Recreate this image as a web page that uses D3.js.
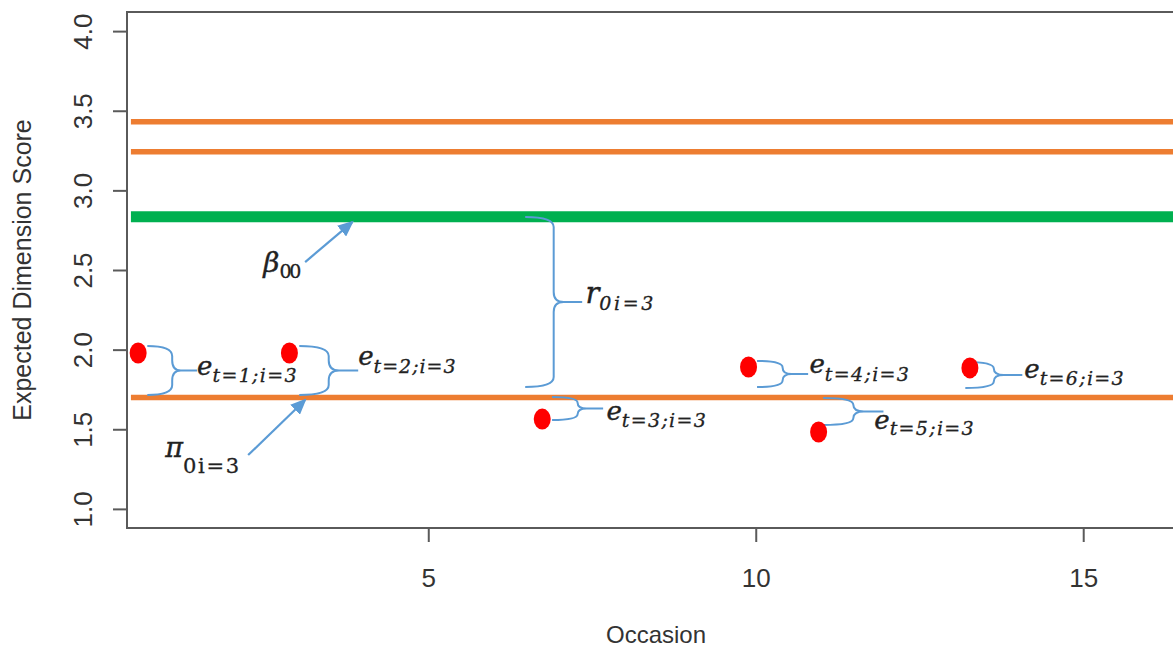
<!DOCTYPE html>
<html>
<head>
<meta charset="utf-8">
<script src="https://cdn.jsdelivr.net/npm/d3@7"></script>
<style>
  body { margin: 0; background: #fff; }
  svg { display: block; font-family: "Liberation Sans", Arial, sans-serif; }
</style>
</head>
<body>
<svg id="chart" width="1173" height="648"></svg>
<script>
// horizontal reference levels
var orange_levels = [3.431, 3.243, 1.70];
var green_level = 2.835;
var line_start = 0.46;

// observed scores for person i=3
var occ_x = [0.57, 2.88, 6.74, 9.89, 10.96, 13.27];
var occ_y = [1.979, 1.979, 1.564, 1.891, 1.483, 1.885];

// braces: start x, top, bottom, tip x
var brace_x0 = [0.71, 3.03, 6.48, 6.89, 10.02, 11.03, 13.20];
var brace_top = [2.023, 2.023, 2.833, 1.702, 1.929, 1.696, 1.922];
var brace_bot = [1.715, 1.715, 1.765, 1.558, 1.765, 1.527, 1.759];
var brace_tip = [1.47, 3.93, 7.35, 7.67, 10.80, 11.95, 14.07];

// arrows: from -> to
var arrow_from = [[3.12, 2.550], [2.25, 1.338]];
var arrow_to = [[3.84, 2.801], [3.12, 1.684]];

// math labels
var label_base = ['\u03b2', '\u03c0', 'r', 'e', 'e', 'e', 'e', 'e', 'e'];
var label_sub = ['00', '0i=3', '0i=3', 't=1;i=3', 't=2;i=3', 't=3;i=3', 't=4;i=3', 't=5;i=3', 't=6;i=3'];
var label_x = [2.48, 0.985, 7.40, 1.47, 3.93, 7.72, 10.82, 11.81, 14.10];
var label_y = [2.487, 1.326, 2.293, 1.841, 1.903, 1.558, 1.853, 1.502, 1.822];

var y_ticks = [1.0, 1.5, 2.0, 2.5, 3.0, 3.5, 4.0];
var x_ticks = [5, 10, 15];

var svg = d3.select('#chart');
var x = d3.scaleLinear().domain([0.4, 16.6]).range([127, 1188]);
var y = d3.scaleLinear().domain([0.88, 4.12]).range([528, 12]);

var blue = '#5b9bd5';
var txt = '#333';

// reference lines
svg.selectAll('.orange')
	.data(orange_levels)
	.enter()
	.append('line')
	.attr('x1', x(line_start)).attr('x2', x(16.6))
	.attr('y1', function(d) { return y(d); })
	.attr('y2', function(d) { return y(d); })
	.attr('stroke', '#ed7d31')
	.attr('stroke-width', 5.5);

svg.append('line')
	.attr('x1', x(line_start)).attr('x2', x(16.6))
	.attr('y1', y(green_level)).attr('y2', y(green_level))
	.attr('stroke', '#00b050')
	.attr('stroke-width', 11);

// box (right side falls outside the picture)
svg.append('path')
	.attr('d', 'M' + x(16.6) + ',' + y(4.12) + 'H' + x(0.4) + 'V' + y(0.88) + 'H' + x(16.6))
	.attr('fill', 'none')
	.attr('stroke', '#5a5a5a')
	.attr('stroke-width', 2);

// axes
var y_axis = svg.append('g')
	.attr('transform', 'translate(' + x(0.4) + ',0)')
	.call(d3.axisLeft(y).tickValues(y_ticks).tickSize(14).tickFormat(d3.format('.1f')));
y_axis.select('.domain').remove();
y_axis.selectAll('line').attr('stroke', '#5a5a5a').attr('stroke-width', 2);
y_axis.selectAll('text')
	.attr('x', 0).attr('dy', 0)
	.attr('text-anchor', 'middle')
	.attr('transform', 'translate(-35,0) rotate(-90)')
	.attr('fill', txt)
	.style('font-size', '26px')
	.style('font-family', '"Liberation Sans", Arial, sans-serif');

var x_axis = svg.append('g')
	.attr('transform', 'translate(0,' + y(0.88) + ')')
	.call(d3.axisBottom(x).tickValues(x_ticks).tickSize(14));
x_axis.select('.domain').remove();
x_axis.selectAll('line').attr('stroke', '#5a5a5a').attr('stroke-width', 2);
x_axis.selectAll('text')
	.attr('y', 59).attr('dy', 0)
	.attr('fill', txt)
	.style('font-size', '26px')
	.style('font-family', '"Liberation Sans", Arial, sans-serif');

svg.append('text')
	.attr('x', 656).attr('y', 643)
	.attr('text-anchor', 'middle')
	.attr('fill', txt)
	.style('font-size', '24px')
	.text('Occasion');

svg.append('text')
	.attr('transform', 'translate(31,270) rotate(-90)')
	.attr('text-anchor', 'middle')
	.attr('fill', txt)
	.style('font-size', '25px')
	.text('Expected Dimension Score');

// braces
function brace_path(i) {
	var x0 = x(brace_x0[i]), xt = x(brace_tip[i]);
	var yt = y(brace_top[i]), yb = y(brace_bot[i]);
	var ym = (yt + yb) / 2;
	var xm = x0 + (xt - x0) * 0.5;
	var r = Math.min(10, (yb - yt) / 4);
	var xk = xm + (xt - xm) * 0.35;
	return 'M' + x0 + ',' + yt +
		' Q' + xm + ',' + yt + ' ' + xm + ',' + (yt + r) +
		' L' + xm + ',' + (ym - r) +
		' Q' + xm + ',' + ym + ' ' + xk + ',' + ym +
		' L' + xt + ',' + ym +
		' M' + xk + ',' + ym +
		' Q' + xm + ',' + ym + ' ' + xm + ',' + (ym + r) +
		' L' + xm + ',' + (yb - r) +
		' Q' + xm + ',' + yb + ' ' + x0 + ',' + yb;
}
svg.selectAll('.brace')
	.data(brace_x0)
	.enter()
	.append('path')
	.attr('d', function(d, i) { return brace_path(i); })
	.attr('fill', 'none')
	.attr('stroke', blue)
	.attr('stroke-width', 2);

// arrows
svg.append('defs').append('marker')
	.attr('id', 'head')
	.attr('markerUnits', 'userSpaceOnUse')
	.attr('markerWidth', 16).attr('markerHeight', 14)
	.attr('refX', 14).attr('refY', 7)
	.attr('orient', 'auto')
	.append('path')
	.attr('d', 'M0,0 L16,7 L0,14 Z')
	.attr('fill', blue);

svg.selectAll('.arrow')
	.data(arrow_from)
	.enter()
	.append('line')
	.attr('x1', function(d) { return x(d[0]); })
	.attr('y1', function(d) { return y(d[1]); })
	.attr('x2', function(d, i) { return x(arrow_to[i][0]); })
	.attr('y2', function(d, i) { return y(arrow_to[i][1]); })
	.attr('stroke', blue)
	.attr('stroke-width', 2.2)
	.attr('marker-end', 'url(#head)');

// points
svg.selectAll('.pt')
	.data(occ_x)
	.enter()
	.append('ellipse')
	.attr('cx', function(d) { return x(d); })
	.attr('cy', function(d, i) { return y(occ_y[i]); })
	.attr('rx', 8.5).attr('ry', 10.5)
	.attr('fill', '#ff0000');

// labels
var base_size = [28, 27, 29, 26, 26, 26, 26, 26, 26];
var sub_size = [19, 21, 19, 19, 19, 19, 19, 19, 19];
var sub_drop = [6, 16, 7, 7, 8, 7, 8, 6, 7];
var sub_len = [22, 56, 54, 84, 82, 84, 84, 84, 84];
var sub_italic = [false, false, true, true, true, true, true, true, true];

label_base.forEach(function(b, i) {
	var bx = x(label_x[i]), by = y(label_y[i]);
	var t = svg.append('text')
		.attr('x', bx).attr('y', by)
		.attr('fill', '#222')
		.attr('stroke', '#222').attr('stroke-width', 0.4)
		.style('font-family', '"DejaVu Serif", serif')
		.style('font-style', 'italic')
		.style('font-size', base_size[i] + 'px')
		.text(b);
	var w = t.node().getComputedTextLength();
	svg.append('text')
		.attr('x', bx + w).attr('y', by + sub_drop[i])
		.attr('fill', '#222')
		.attr('stroke', '#222').attr('stroke-width', 0.3)
		.attr('textLength', sub_len[i])
		.attr('lengthAdjust', 'spacing')
		.style('font-family', '"DejaVu Serif", serif')
		.style('font-style', sub_italic[i] ? 'italic' : 'normal')
		.style('font-size', sub_size[i] + 'px')
		.text(label_sub[i]);
});
</script>
</body>
</html>
